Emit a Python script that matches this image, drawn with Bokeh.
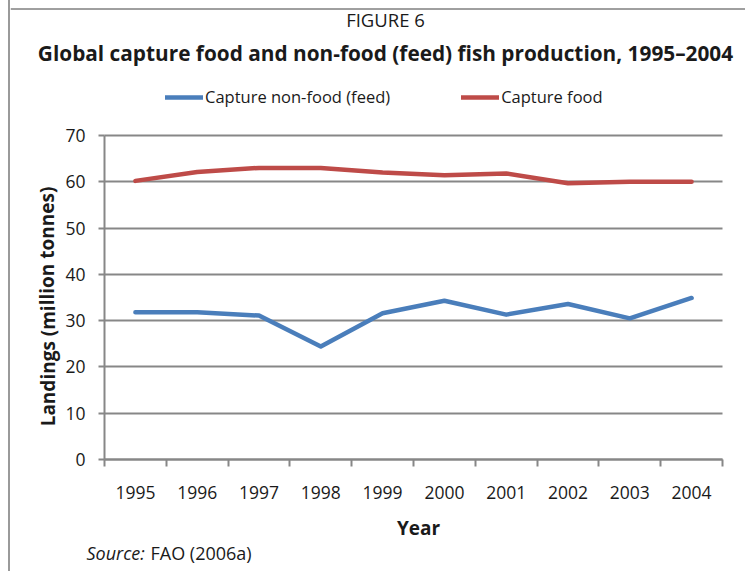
from bokeh.plotting import figure
from bokeh.models import (Range1d, FixedTicker, Label, Legend, LegendItem,
                          ColumnDataSource, Grid, Span)
from bokeh.embed import file_html
from bokeh.resources import INLINE

years = ["1995", "1996", "1997", "1998", "1999", "2000", "2001", "2002", "2003", "2004"]
capture_nonfood = [31.8, 31.8, 31.1, 24.4, 31.6, 34.3, 31.3, 33.6, 30.5, 34.9]
capture_food = [60.2, 62.1, 63.0, 63.0, 62.0, 61.4, 61.8, 59.7, 60.0, 60.0]
y_ticks = [0, 10, 20, 30, 40, 50, 60, 70]

FONT = "Open Sans"
GRID = "#878787"
TXT = "#1a1a1a"
BLUE = "#4A7EBB"
RED = "#BE4B48"

# canvas sits at page pixel (10, 0); frame covers the whole canvas
W, H = 737, 571
OX, OY = 10, 0
# where the plot area sits on the page
PL, PR, PT, PB = 104, 722, 135, 459
n = len(years)
ymax = 70
ppx = (PR - PL) / n
ppy = (PB - PT) / ymax
x_range = Range1d((OX - PL) / ppx, (OX + W - PL) / ppx)
y_range = Range1d(-(OY + H - PB) / ppy, (PB - OY) / ppy)

xpos = [i + 0.5 for i in range(n)]
src = ColumnDataSource(dict(x=xpos, nonfood=capture_nonfood, food=capture_food))

p = figure(width=W, height=H, output_backend="svg", toolbar_location=None,
           x_range=x_range, y_range=y_range, min_border=0)
p.styles = {"margin-left": "8px", "border-left": "2px solid #9a9a9a"}
p.outline_line_color = None
p.background_fill_color = "white"
p.border_fill_color = "white"

# top rule of the figure box
p.add_layout(Span(location=(PB - 8.5) / ppy, dimension="width",
                  line_color="#404040", line_width=1))

# grid
p.xgrid.visible = False
ygrid = p.ygrid[0]
ygrid.ticker = FixedTicker(ticks=y_ticks)
ygrid.bounds = (0, ymax)
if "cross_bounds" in Grid.properties():
    ygrid.cross_bounds = (0, n)
    ygrid.grid_line_color = GRID
    ygrid.grid_line_width = 2
else:
    ygrid.visible = False
    p.segment(x0=[0] * len(y_ticks), x1=[n] * len(y_ticks), y0=y_ticks, y1=y_ticks,
              line_color=GRID, line_width=2)

# y axis
yax = p.yaxis[0]
yax.fixed_location = 0
yax.bounds = (0, ymax)
yax.ticker = FixedTicker(ticks=y_ticks)
yax.axis_line_color = GRID
yax.axis_line_width = 2
yax.major_tick_line_color = GRID
yax.major_tick_line_width = 2
yax.major_tick_out = 6
yax.major_tick_in = 0
yax.minor_tick_line_color = None
yax.major_label_standoff = 13
yax.major_label_text_font = FONT
yax.major_label_text_font_size = "17.5px"
yax.major_label_text_color = TXT

# x axis: labels at category centres, tick marks at category boundaries
xax = p.xaxis[0]
xax.fixed_location = 0
xax.bounds = (0, n)
xax.ticker = FixedTicker(ticks=xpos, minor_ticks=list(range(n + 1)))
xax.major_label_overrides = {x: y for x, y in zip(xpos, years)}
xax.axis_line_color = GRID
xax.axis_line_width = 2
xax.major_tick_line_color = None
xax.major_tick_out = 0
xax.major_tick_in = 0
xax.minor_tick_line_color = GRID
xax.minor_tick_line_width = 2
xax.minor_tick_out = 7
xax.minor_tick_in = 0
xax.major_label_standoff = 19
xax.major_label_text_font = FONT
xax.major_label_text_font_size = "17.5px"
xax.major_label_text_color = TXT

# series
r_blue = p.line("x", "nonfood", source=src, line_color=BLUE, line_width=4.5,
                line_join="round", line_cap="round")
r_red = p.line("x", "food", source=src, line_color=RED, line_width=4.5,
               line_join="round", line_cap="round")

# screen helpers: page pixel -> frame screen units (from bottom-left)
def sx(px):
    return px - OX

def sy(py):
    return OY + H - py

legend = Legend(items=[LegendItem(label="Capture non-food (feed)", renderers=[r_blue]),
                       LegendItem(label="Capture food", renderers=[r_red])],
                orientation="horizontal", location=(sx(165), sy(108)),
                glyph_width=38, glyph_height=20, label_standoff=2, spacing=71,
                padding=0, margin=0, border_line_color=None,
                background_fill_alpha=0, label_text_font=FONT,
                label_text_font_size="16.5px", label_text_color=TXT,
                label_height=20)
p.add_layout(legend, "center")

def lab(text, x, y, size, style="normal", align="center", angle=0.0):
    l = Label(text=text, x=sx(x), y=sy(y), x_units="screen", y_units="screen",
              text_font=FONT, text_font_size=size, text_font_style=style,
              text_align=align, text_baseline="middle", text_color=TXT,
              angle=angle)
    p.add_layout(l)

lab("FIGURE 6", 385, 19, "18.5px")
lab("Global capture food and non-food (feed) fish production, 1995\u20132004",
    385, 52, "20.8px", style="bold")
lab("Landings (million tonnes)", 47, 306, "19px", style="bold", angle=1.5708)
lab("Year", 418, 527, "19px", style="bold")
lab("Source:", 86, 552, "18px", style="italic", align="left")
lab("FAO (2006a)", 150, 552, "18px", align="left")

open("out.html", "w").write(file_html(p, INLINE))
